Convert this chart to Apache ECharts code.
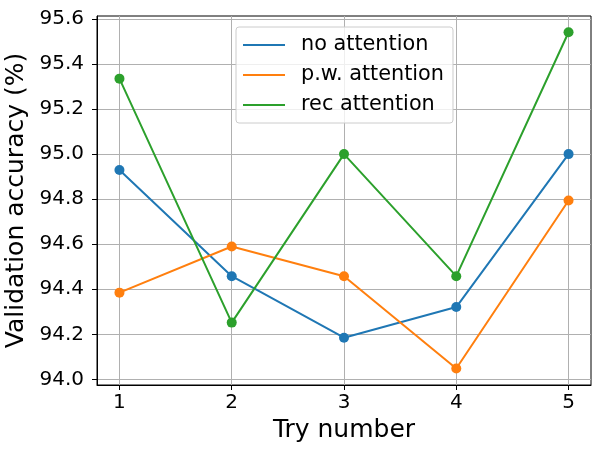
<!DOCTYPE html>
<html><head><meta charset="utf-8">
<script src="https://cdn.jsdelivr.net/npm/echarts@6/dist/echarts.min.js"></script>
<style>html,body{margin:0;padding:0;background:#fff}#c{width:601px;height:454px}</style>
</head><body><div id="c"></div>
<script>
const tries = [1, 2, 3, 4, 5];
const noAttention = [94.929, 94.458, 94.185, 94.321, 95.0];
const pwAttention = [94.385, 94.59, 94.458, 94.048, 94.794];
const recAttention = [95.335, 94.252, 95.0, 94.458, 95.541];
const yTicks = [94.0, 94.2, 94.4, 94.6, 94.8, 95.0, 95.2, 95.4, 95.6];
const seriesNames = ['no attention', 'p.w. attention', 'rec attention'];
const colors = ['#1f77b4', '#ff7f0e', '#2ca02c'];
const font = 'DejaVu Sans';

const chart = echarts.init(document.getElementById('c'), null, {renderer: 'canvas'});
function mk(name, vals, color) {
  return {
    name, type: 'line', data: tries.map((t, i) => [t, vals[i]]),
    symbol: 'circle', symbolSize: 10, showSymbol: true,
    lineStyle: {color, width: 2}, itemStyle: {color},
    emphasis: {disabled: true}, animation: false
  };
}
chart.setOption({
  animation: false,
  grid: {left: 97, right: 10, top: 16, bottom: 69, containLabel: false, outerBoundsMode: 'none',
    show: true, borderColor: '#000', borderWidth: 1, backgroundColor: 'transparent'},
  legend: {
    orient: 'vertical', left: 236, top: 27,
    data: seriesNames.map(n => ({name: n, icon: 'rect'})),
    itemWidth: 42, itemHeight: 2, itemGap: 6,
    padding: [6, 9, 6, 7],
    backgroundColor: 'rgba(255,255,255,0.8)', borderColor: '#cccccc', borderWidth: 1, borderRadius: 3,
    textStyle: {fontFamily: font, fontSize: 20.8, color: '#000', lineHeight: 24, padding: [0, 0, 0, 11]}
  },
  xAxis: {
    type: 'value', min: 0.8, max: 5.2,
    name: 'Try number', nameLocation: 'middle', nameGap: 32,
    nameTextStyle: {fontFamily: font, fontSize: 25, color: '#000', verticalAlign: 'top'},
    axisLine: {show: true, lineStyle: {color: '#000', width: 1}},
    axisTick: {show: true, inside: false, length: 5, lineStyle: {color: '#000'}, customValues: tries},
    axisLabel: {fontFamily: font, fontSize: 20, color: '#000', margin: 8, customValues: tries, formatter: v => String(Math.round(v))},
    splitLine: {show: true, lineStyle: {color: '#b0b0b0', width: 1}}
  },
  yAxis: {
    type: 'value', min: 93.975, max: 95.613,
    name: 'Validation accuracy (%)', nameLocation: 'middle', nameGap: 62,
    nameTextStyle: {fontFamily: font, fontSize: 25, color: '#000'},
    axisLine: {show: true, lineStyle: {color: '#000', width: 1}},
    axisTick: {show: true, inside: false, length: 5, lineStyle: {color: '#000'}, customValues: yTicks},
    axisLabel: {fontFamily: font, fontSize: 20, color: '#000', margin: 13, customValues: yTicks, formatter: v => v.toFixed(1)},
    splitLine: {show: true, lineStyle: {color: '#b0b0b0', width: 1}}
  },
  series: [mk(seriesNames[0], noAttention, colors[0]), mk(seriesNames[1], pwAttention, colors[1]), mk(seriesNames[2], recAttention, colors[2])]
});
</script></body></html>
